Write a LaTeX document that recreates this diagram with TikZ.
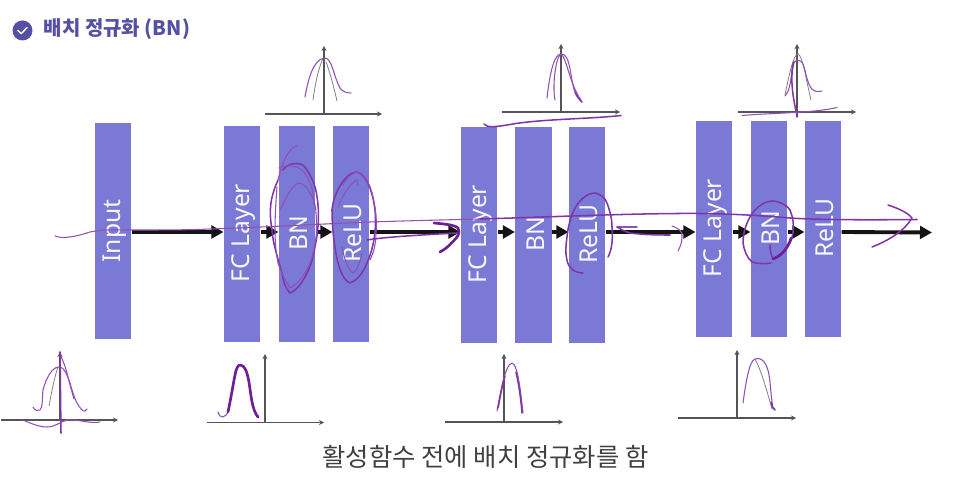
\documentclass[tikz,border=0pt]{standalone}
\usepackage{fontspec}
\setmainfont{Noto Sans}
\newfontfamily\krfont{Noto Sans CJK KR}
\usetikzlibrary{arrows.meta}
\definecolor{barblue}{HTML}{7A79D6}
\definecolor{titleblue}{HTML}{5650A4}
\definecolor{inkthin}{HTML}{9050B4}
\definecolor{inkmid}{HTML}{7F35A8}
\definecolor{inkthick}{HTML}{6E1F96}
\definecolor{axisgray}{HTML}{555555}
\tikzset{
  barbox/.style={fill=barblue,draw=none,minimum width=36.5*0.75pt,minimum height=216*0.75pt,inner sep=0pt,anchor=north},
  barlabel/.style={text=white!95!barblue,rotate=90,font=\fontsize{18.5}{20}\selectfont},
  flow/.style={draw=black!92,line width=2.9pt,-{Triangle[length=9pt,width=9.5pt]}},
  axisline/.style={draw=axisgray,line width=0.95pt,-{Stealth[length=3.8pt,width=3.8pt]}},
  pen/.style={draw=inkthin,line width=0.8pt,line cap=round,line join=round},
  penm/.style={draw=inkmid,line width=1.15pt,line cap=round,line join=round},
  penk/.style={draw=inkthick,line width=2pt,line cap=round,line join=round},
  curvegray/.style={draw=gray,line width=0.6pt}
}
\begin{document}
\begin{tikzpicture}[x=0.75pt,y=-0.75pt]
\useasboundingbox (0,0) rectangle (953,499);
% title
\node[circle,fill=titleblue,minimum size=15pt,inner sep=0pt] (chk) at (22.5,30.5) {};
\draw[white,line width=1.1pt,line cap=round,line join=round] (18,30.5) -- (21.3,33.6) -- (27,27.6);
\node[anchor=west,inner sep=0pt,text=titleblue,font=\krfont\bfseries\fontsize{15}{17}\selectfont] (ttl) at (43.5,29.5) {배치 정규화 (BN)};
% bars
\node[barbox] (inp) at (113,123) {};
\node[barbox] (fc1) at (242,125.5) {};
\node[barbox] (bn1) at (297,125.5) {};
\node[barbox] (re1) at (351,125.5) {};
\node[barbox] (fc2) at (479,126.5) {};
\node[barbox] (bn2) at (533.5,126.5) {};
\node[barbox] (re2) at (587,126.5) {};
\node[barbox] (fc3) at (714,120.5) {};
\node[barbox] (bn3) at (769,120.5) {};
\node[barbox] (re3) at (823,120.5) {};
\coordinate (endpt) at (932,232.5);
% arrows
\draw[flow] (inp.east |- 0,232) -- (fc1.west |- 0,232);
\draw[flow] (fc1.east |- 0,232) -- (bn1.west |- 0,232);
\draw[flow] (bn1.east |- 0,232) -- (re1.west |- 0,232);
\draw[flow] (re1.east |- 0,232) -- (fc2.west |- 0,232);
\draw[flow] (fc2.east |- 0,232) -- (bn2.west |- 0,232);
\draw[flow] (bn2.east |- 0,232) -- (re2.west |- 0,232);
\draw[flow] (re2.east |- 0,232) -- (fc3.west |- 0,232);
\draw[flow] (fc3.east |- 0,232) -- (bn3.west |- 0,232);
\draw[flow] (bn3.east |- 0,232) -- (re3.west |- 0,232);
\draw[flow] (re3.east |- 0,232) -- (endpt);
% bar labels
\node[barlabel] at (115,231) {Input};
\node[barlabel] at (244,233) {FC Layer};
\node[barlabel] at (299,233) {BN};
\node[barlabel] at (353,233) {ReLU};
\node[barlabel] at (481,234) {FC Layer};
\node[barlabel] at (535.5,234) {BN};
\node[barlabel] at (589,234) {ReLU};
\node[barlabel] at (716,228) {FC Layer};
\node[barlabel] at (771,228) {BN};
\node[barlabel] at (825,228) {ReLU};
% top axes
\draw[axisline] (265,114) -- (382,114);
\draw[axisline] (324,114) -- (324,46);
\draw[axisline] (502,112) -- (620,112);
\draw[axisline] (561,112) -- (561,44);
\draw[axisline] (738,112) -- (856,112);
\draw[axisline] (797,112) -- (797,44);
% bottom axes
\draw[axisline] (1,420) -- (118,420);
\draw[axisline] (60,420) -- (60,352);
\draw[axisline] (207,422.5) -- (324,422.5);
\draw[axisline] (265,422.5) -- (265,354);
\draw[axisline] (445,422) -- (563,422);
\draw[axisline] (504,422) -- (504,354);
\draw[axisline] (678,418) -- (796,418);
\draw[axisline] (737,418) -- (737,350);
% bottom text
\node[inner sep=0pt,text=black!75,font=\krfont\fontsize{19}{21}\selectfont] (cap) at (485.5,456.5) {활성함수 전에 배치 정규화를 함};
% gray curves
\draw[curvegray] (313,100) .. controls (315,85) and (318,70) .. (323,58);
\draw[curvegray] (326,62) .. controls (330,72) and (334,88) .. (337,101);
\draw[curvegray] (785,95) .. controls (790,70) and (794,54) .. (798,54) .. controls (803,56) and (806,80) .. (811,100);
\draw[curvegray] (49,406) .. controls (52,390) and (55,375) .. (58,367);
\draw[curvegray] (755,359) .. controls (762,372) and (768,395) .. (772,409);
% ink: top curves
\draw[pen] (305,97) .. controls (308,80) and (313,60) .. (324,58) .. controls (332,57) and (333,75) .. (340,88) .. controls (343,92) and (347,93) .. (351,93);
\draw[pen] (547,98) .. controls (549,80) and (553,54) .. (561,54) .. controls (571,53) and (570,80) .. (575,92);
\draw[pen] (555,100) .. controls (552,85) and (556,56) .. (561,54) .. controls (566,56) and (570,85) .. (581,100);
\draw[penm] (575,92) .. controls (577,97) and (579,99) .. (582,102);
\draw[pen] (785,96) .. controls (793,88) and (791,60) .. (794,62) .. controls (800,58) and (803,60) .. (806,75) .. controls (810,90) and (813,93) .. (822,91);
\draw[penm] (794,62) .. controls (790,75) and (792,95) .. (797,115);
\draw[penm] (797,110) -- (797,117);
\draw[pen] (742,115.5) .. controls (770,113) and (815,113) .. (837,107.5);
\draw[penm] (484,124) .. controls (487,128) and (495,127) .. (510,124.5) .. controls (540,119) and (590,119) .. (621,115.5);
% main long ink line
\draw[pen] (55,236) .. controls (62,239) and (75,237) .. (90,232) .. controls (105,229) and (115,230) .. (130,230) .. controls (160,230) and (190,230) .. (210,229) .. controls (270,227) and (320,224) .. (370,222) .. controls (400,221) and (440,220) .. (480,219);
\draw[penm] (480,219) .. controls (550,217) and (640,213) .. (700,213.5) .. controls (740,214) and (765,216) .. (790,218) .. controls (820,220) and (870,220) .. (917,219.5);
\draw[penm] (888,205) .. controls (900,209) and (908,213) .. (912,218) .. controls (905,230) and (890,240) .. (872,247);
% BN1 scribbles
\draw[pen] (278,180) .. controls (282,162) and (290,146) .. (297,146);
\draw[penm] (283,170) .. controls (287,163) and (300,161) .. (305,167) .. controls (312,177) and (316,187) .. (317,197) .. controls (320,215) and (318,232) .. (315,247) .. controls (313,258) and (311,265) .. (307,273) .. controls (302,283) and (297,290) .. (290,293) .. controls (285,288) and (283,280) .. (282,273) .. controls (278,258) and (273,245) .. (272,230) .. controls (270,218) and (270,210) .. (271,203) .. controls (272,195) and (275,187) .. (278,180);
\draw[pen] (280,210) .. controls (285,200) and (290,188) .. (298,183) .. controls (304,183) and (307,188) .. (310,193) .. controls (314,199) and (316,206) .. (316,213) .. controls (318,232) and (315,250) .. (310,263) .. controls (305,275) and (298,284) .. (290,288) .. controls (285,280) and (281,272) .. (278,263) .. controls (276,252) and (275,242) .. (275,230) .. controls (275,215) and (276,200) .. (277,187);
\draw[pen] (279,168) .. controls (285,165) and (300,164) .. (306,175) .. controls (312,185) and (314,195) .. (314,205);
% ReLU1 scribbles
\draw[penm] (332,210) .. controls (333,195) and (345,172) .. (357,172) .. controls (368,175) and (373,195) .. (375,210) .. controls (377,230) and (373,250) .. (367,263) .. controls (362,275) and (356,281) .. (350,283) .. controls (342,280) and (337,263) .. (335,247) .. controls (333,235) and (332,222) .. (332,210);
\draw[pen] (343,185) .. controls (347,178) and (352,172) .. (358,172) .. controls (366,175) and (371,187) .. (373,197) .. controls (376,210) and (377,222) .. (376,233) .. controls (376,243) and (374,252) .. (370,260);
\draw[pen] (338,207) .. controls (342,197) and (350,183) .. (357,180) -- (358,185);
\draw[pen] (342,247) .. controls (344,258) and (348,270) .. (353,273) .. controls (357,272) and (360,262) .. (362,253);
% arrow ink after ReLU1
\draw[penm] (367,240) .. controls (385,237) and (420,235) .. (457,233);
\draw[penk] (434,223) .. controls (445,224) and (455,225) .. (458,228) .. controls (460,232) and (458,236) .. (457,237) .. controls (452,243) and (446,249) .. (440,252);
% ReLU2
\draw[penm] (583,273) .. controls (575,273) and (568,268) .. (567,260) .. controls (565,252) and (566,245) .. (567,237) .. controls (568,226) and (571,216) .. (575,208) .. controls (580,199) and (588,193) .. (595,193) .. controls (601,194) and (605,198) .. (607,203) .. controls (610,211) and (612,219) .. (612,227) .. controls (613,238) and (612,250) .. (608,257);
\draw[pen] (617,227) -- (637,227);
\draw[penm] (617,227) .. controls (622,230) and (626,232) .. (630,233) .. controls (645,235) and (660,235) .. (670,235);
\draw[pen] (672,226) .. controls (680,229) and (683,232) .. (682,237) .. controls (682,243) and (680,247) .. (678,251);
% BN3
\draw[penm] (771,263) .. controls (765,264) and (758,264) .. (752,262) .. controls (747,258) and (744,250) .. (743,243) .. controls (743,233) and (746,224) .. (750,217) .. controls (755,208) and (764,201) .. (773,201) .. controls (781,202) and (788,206) .. (790,210) .. controls (793,217) and (794,225) .. (793,233) .. controls (792,240) and (789,246) .. (785,250);
\draw[penm] (770,245) .. controls (770,250) and (771,255) .. (773,259);
\draw[penk] (773,259) .. controls (778,257) and (782,254) .. (785,250) .. controls (788,246) and (790,242) .. (791,238);
% bottom curves ink
\draw[pen] (33,407) .. controls (35,411) and (38,411) .. (40,410) .. controls (43,407) and (42,398) .. (43,390) .. controls (46,378) and (52,368) .. (58,367) .. controls (64,366) and (67,375) .. (70,383) .. controls (72,390) and (74,397) .. (77,403) .. controls (80,408) and (83,412) .. (85,411) -- (87,409);
\draw[pen] (60,355) .. controls (63,360) and (65,366) .. (67,373) .. controls (70,385) and (72,392) .. (74,399);
\draw[penm] (60,352) -- (61,433);
\draw[pen] (23,420) .. controls (32,424) and (40,427) .. (47,427) .. controls (55,427) and (60,422) .. (67,420) .. controls (78,419) and (90,424) .. (100,422);
\draw[pen] (218,412) .. controls (219,416) and (221,417) .. (223,417) .. controls (226,416) and (227,414) .. (228,412);
\draw[penk] (228,412) .. controls (231,398) and (233,385) .. (235,375) .. controls (236,369) and (238,365) .. (240,365) .. controls (245,365) and (247,372) .. (249,382) .. controls (251,395) and (252,410) .. (258,417);
\draw[pen] (497,411) .. controls (500,395) and (505,364) .. (512,363) .. controls (518,364) and (521,395) .. (523,413);
\draw[penm] (498,408) .. controls (500,398) and (502,386) .. (505,376);
\draw[penm] (516,372) .. controls (519,385) and (521,400) .. (522,413);
\draw[pen] (743,403) .. controls (745,388) and (749,360) .. (755,359) .. controls (762,357) and (768,362) .. (770,382) .. controls (771,393) and (772,403) .. (773,409);
\draw[penm] (771,402) .. controls (772,406) and (773,409) .. (775,410);
\end{tikzpicture}
\end{document}
